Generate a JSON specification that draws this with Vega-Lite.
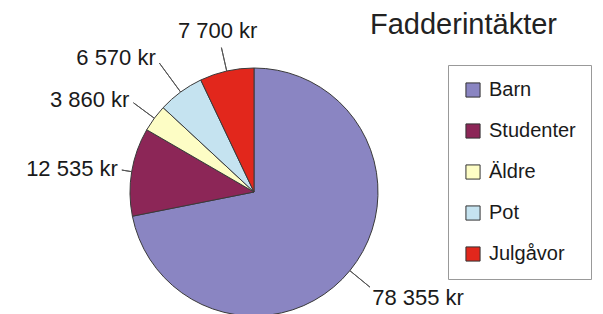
{
  "$schema": "https://vega.github.io/schema/vega-lite/v6.json",
  "width": 508,
  "height": 244,
  "autosize": "none",
  "padding": {"left": 0, "top": 70, "right": 95, "bottom": 0},
  "background": "white",
  "title": {"text": "Fadderintäkter", "anchor": "start", "frame": "group", "dx": 370, "offset": -21, "fontSize": 29, "font": "Liberation Sans", "fontWeight": "normal", "color": "#222222"},
  "data": {"values": [
    {"name": "Barn", "value": 78355, "order": 1, "label": "78 355 kr"},
    {"name": "Studenter", "value": 12535, "order": 2, "label": "12 535 kr"},
    {"name": "Äldre", "value": 3860, "order": 3, "label": "3 860 kr"},
    {"name": "Pot", "value": 6570, "order": 4, "label": "6 570 kr"},
    {"name": "Julgåvor", "value": 7700, "order": 5, "label": "7 700 kr"}
  ]},
  "resolve": {"scale": {"theta": "independent"}},
  "layer": [
    {
      "mark": {"type": "arc", "radius": 124, "stroke": "#3a3a3a", "strokeWidth": 1},
      "encoding": {
        "theta": {"field": "value", "type": "quantitative", "stack": true},
        "order": {"field": "order", "type": "quantitative"},
        "color": {"field": "name", "type": "nominal",
          "scale": {"domain": ["Barn", "Studenter", "Äldre", "Pot", "Julgåvor"], "range": ["#8a85c2", "#8c2657", "#fdfdc5", "#c5e3f0", "#e2271c"]},
          "legend": {"orient": "none", "legendX": 448, "legendY": -5, "title": null, "symbolType": "square", "symbolSize": 200, "symbolStrokeColor": "#333333", "symbolStrokeWidth": 1, "labelFontSize": 20, "labelFont": "Liberation Sans", "labelColor": "#1a1a1a", "rowPadding": 21, "padding": 15, "strokeColor": "#999999", "fillColor": "white", "labelOffset": 6}
        }
      }
    },
    {
      "transform": [{"fold": ["value", "value"], "as": ["k", "v"]}, {"window": [{"op": "row_number", "as": "rn"}], "groupby": ["name"]}, {"stack": "v", "groupby": [], "sort": [{"field": "order"}, {"field": "rn"}], "as": ["s0", "s1"]}],
      "mark": {"type": "arc", "radius": 150, "radius2": 124, "stroke": "#555555", "strokeWidth": 1, "fill": "transparent"},
      "encoding": {"theta": {"field": "s1", "type": "quantitative"}, "theta2": {"field": "s1"}, "strokeOpacity": {"condition": {"test": "datum.rn === 1 && datum.name === 'Barn'", "value": 1}, "value": 0}}
    },
    {
      "transform": [{"fold": ["value", "value"], "as": ["k", "v"]}, {"window": [{"op": "row_number", "as": "rn"}], "groupby": ["name"]}, {"stack": "v", "groupby": [], "sort": [{"field": "order"}, {"field": "rn"}], "as": ["s0", "s1"]}],
      "mark": {"type": "arc", "radius": 134, "radius2": 124, "stroke": "#555555", "strokeWidth": 1, "fill": "transparent"},
      "encoding": {"theta": {"field": "s1", "type": "quantitative"}, "theta2": {"field": "s1"}, "strokeOpacity": {"condition": {"test": "datum.rn === 1 && datum.name === 'Studenter'", "value": 1}, "value": 0}}
    },
    {
      "transform": [{"fold": ["value", "value"], "as": ["k", "v"]}, {"window": [{"op": "row_number", "as": "rn"}], "groupby": ["name"]}, {"stack": "v", "groupby": [], "sort": [{"field": "order"}, {"field": "rn"}], "as": ["s0", "s1"]}],
      "mark": {"type": "arc", "radius": 150, "radius2": 124, "stroke": "#555555", "strokeWidth": 1, "fill": "transparent"},
      "encoding": {"theta": {"field": "s1", "type": "quantitative"}, "theta2": {"field": "s1"}, "strokeOpacity": {"condition": {"test": "datum.rn === 1 && datum.name === 'Äldre'", "value": 1}, "value": 0}}
    },
    {
      "transform": [{"fold": ["value", "value"], "as": ["k", "v"]}, {"window": [{"op": "row_number", "as": "rn"}], "groupby": ["name"]}, {"stack": "v", "groupby": [], "sort": [{"field": "order"}, {"field": "rn"}], "as": ["s0", "s1"]}],
      "mark": {"type": "arc", "radius": 160, "radius2": 124, "stroke": "#555555", "strokeWidth": 1, "fill": "transparent"},
      "encoding": {"theta": {"field": "s1", "type": "quantitative"}, "theta2": {"field": "s1"}, "strokeOpacity": {"condition": {"test": "datum.rn === 1 && datum.name === 'Pot'", "value": 1}, "value": 0}}
    },
    {
      "transform": [{"fold": ["value", "value"], "as": ["k", "v"]}, {"window": [{"op": "row_number", "as": "rn"}], "groupby": ["name"]}, {"stack": "v", "groupby": [], "sort": [{"field": "order"}, {"field": "rn"}], "as": ["s0", "s1"]}],
      "mark": {"type": "arc", "radius": 148, "radius2": 124, "stroke": "#555555", "strokeWidth": 1, "fill": "transparent"},
      "encoding": {"theta": {"field": "s1", "type": "quantitative"}, "theta2": {"field": "s1"}, "strokeOpacity": {"condition": {"test": "datum.rn === 1 && datum.name === 'Julgåvor'", "value": 1}, "value": 0}}
    },
    {
      "mark": {"type": "text", "radius": 158, "align": "left", "baseline": "middle", "fontSize": 22, "font": "Liberation Sans", "color": "#1a1a1a", "dx": -4, "dy": 6},
      "encoding": {"theta": {"field": "value", "type": "quantitative", "stack": true}, "order": {"field": "order", "type": "quantitative"}, "detail": {"field": "name", "type": "nominal"},
        "text": {"condition": {"test": "datum.name === 'Barn'", "field": "label", "type": "nominal"}, "value": ""}}
    },
    {
      "mark": {"type": "text", "radius": 138, "align": "right", "baseline": "middle", "fontSize": 22, "font": "Liberation Sans", "color": "#1a1a1a"},
      "encoding": {"theta": {"field": "value", "type": "quantitative", "stack": true}, "order": {"field": "order", "type": "quantitative"}, "detail": {"field": "name", "type": "nominal"},
        "text": {"condition": {"test": "datum.name === 'Studenter'", "field": "label", "type": "nominal"}, "value": ""}}
    },
    {
      "mark": {"type": "text", "radius": 155, "align": "right", "baseline": "middle", "fontSize": 22, "font": "Liberation Sans", "color": "#1a1a1a"},
      "encoding": {"theta": {"field": "value", "type": "quantitative", "stack": true}, "order": {"field": "order", "type": "quantitative"}, "detail": {"field": "name", "type": "nominal"},
        "text": {"condition": {"test": "datum.name === 'Äldre'", "field": "label", "type": "nominal"}, "value": ""}}
    },
    {
      "mark": {"type": "text", "radius": 166, "align": "right", "baseline": "middle", "fontSize": 22, "font": "Liberation Sans", "color": "#1a1a1a"},
      "encoding": {"theta": {"field": "value", "type": "quantitative", "stack": true}, "order": {"field": "order", "type": "quantitative"}, "detail": {"field": "name", "type": "nominal"},
        "text": {"condition": {"test": "datum.name === 'Pot'", "field": "label", "type": "nominal"}, "value": ""}}
    },
    {
      "mark": {"type": "text", "radius": 165, "align": "center", "baseline": "middle", "fontSize": 22, "font": "Liberation Sans", "color": "#1a1a1a"},
      "encoding": {"theta": {"field": "value", "type": "quantitative", "stack": true}, "order": {"field": "order", "type": "quantitative"}, "detail": {"field": "name", "type": "nominal"},
        "text": {"condition": {"test": "datum.name === 'Julgåvor'", "field": "label", "type": "nominal"}, "value": ""}}
    }
  ],
  "config": {"view": {"stroke": null}, "font": "Liberation Sans"}
}
